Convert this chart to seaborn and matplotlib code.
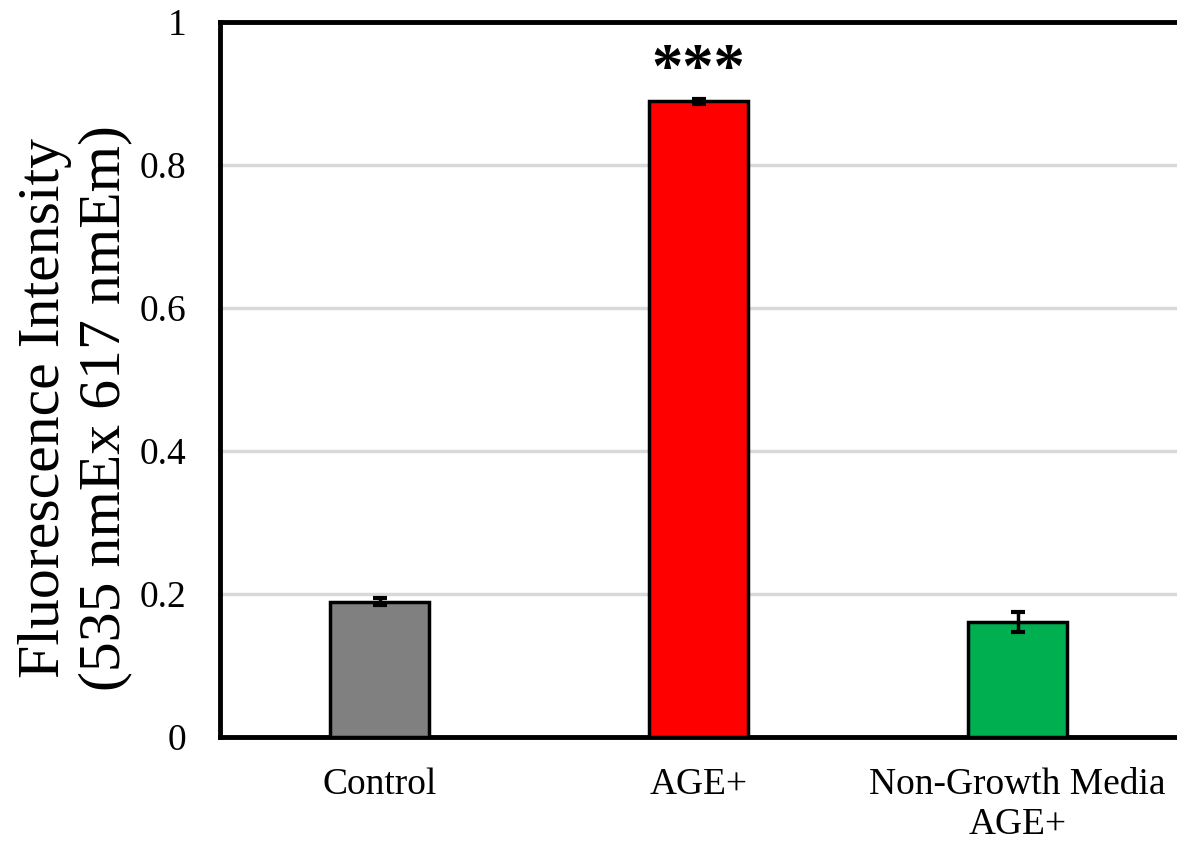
import matplotlib
matplotlib.use("Agg")
import matplotlib.pyplot as plt
import seaborn as sns
import pandas as pd

categories = ["Control", "AGE+", "Non-Growth Media\nAGE+"]
means = [0.189, 0.889, 0.161]
errors = [0.005, 0.003, 0.014]
colors = ["#808080", "#FF0000", "#00B050"]
y_ticks = [0, 0.2, 0.4, 0.6, 0.8, 1.0]
y_tick_labels = ["0", "0.2", "0.4", "0.6", "0.8", "1"]
significance = ["", "***", ""]

sns.set_theme(style="white")
plt.rcParams["font.family"] = ["Liberation Serif", "DejaVu Serif"]
plt.rcParams["text.color"] = "black"
plt.rcParams["axes.labelcolor"] = "black"
plt.rcParams["xtick.color"] = "black"
plt.rcParams["ytick.color"] = "black"

df = pd.DataFrame({"group": categories, "value": means})

fig = plt.figure(figsize=(11.77, 8.46), dpi=100)
ax = fig.add_axes([220 / 1177, 1 - 737 / 846, 957 / 1177, (737 - 22) / 846])

sns.barplot(data=df, x="group", y="value", hue="group", palette=colors,
            saturation=1, width=0.31, edgecolor="black", linewidth=2.5,
            legend=False, ax=ax, zorder=3)

ax.errorbar(range(len(categories)), means, yerr=errors, fmt="none",
            ecolor="black", elinewidth=2.5, capsize=5, capthick=3, zorder=4)

for i, (m, e, s) in enumerate(zip(means, errors, significance)):
    if s:
        ax.annotate(s, xy=(i, m + e), xytext=(0, -1), textcoords="offset points",
                    ha="center", va="bottom", fontsize=45, fontweight="bold")

ax.set_ylim(0, 1)
ax.set_xlim(-0.5, 2.5)
ax.set_yticks(y_ticks)
ax.set_yticklabels(y_tick_labels, fontsize=27)
ax.tick_params(axis="x", labelsize=27, length=0, pad=22)
ax.tick_params(axis="y", length=0, pad=24)
ax.set_xlabel("")
ax.set_ylabel("Fluorescence Intensity\n(535 nmEx 617 nmEm)", fontsize=43,
              linespacing=1.15)
ax.yaxis.set_label_coords(-0.092, 0.46)

for y in y_ticks[1:-1]:
    ax.axhline(y, color="#d9d9d9", linewidth=2.5, zorder=0)

for side in ["left", "bottom", "top"]:
    ax.spines[side].set_visible(True)
    ax.spines[side].set_color("black")
    ax.spines[side].set_linewidth(3.5)
ax.spines["right"].set_visible(False)

fig.savefig("out.png", dpi=100)
